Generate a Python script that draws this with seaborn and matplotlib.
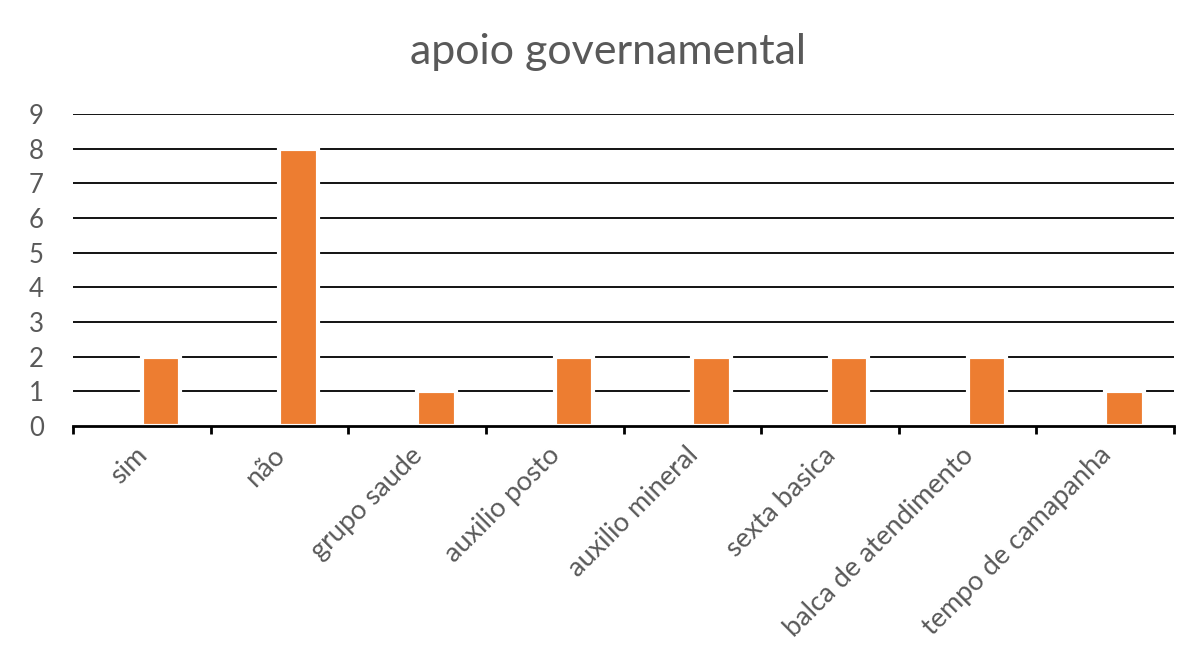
import matplotlib
matplotlib.use("Agg")
import matplotlib.pyplot as plt
import matplotlib.transforms as mtransforms
import seaborn as sns
import pandas as pd

categories = ["sim", "não", "grupo saude", "auxilio posto", "auxilio mineral",
              "sexta basica", "balca de atendimento", "tempo de camapanha"]
values = [2, 8, 1, 2, 2, 2, 2, 1]
yticks = list(range(0, 10))
title = "apoio governamental"

sns.set_theme(style="white")
plt.rcParams['font.family'] = ['Lato', 'DejaVu Sans']

fig = plt.figure(figsize=(11.98, 6.45), dpi=100)
ax = fig.add_axes([73/1198, 1-426/645, 1101/1198, 312/645])

# Excel-style clustered layout: an empty first series pushes the bars right
df = pd.DataFrame({
    "cat": categories * 2,
    "val": [float("nan")] * len(categories) + values,
    "serie": ["a"] * len(categories) + ["b"] * len(categories),
})
sns.barplot(data=df, x="cat", y="val", hue="serie",
            palette={"a": "#4472C4", "b": "#ED7D31"}, width=0.56, dodge=True,
            edgecolor="white", linewidth=3, ax=ax, zorder=3, saturation=1,
            legend=False)

ax.set_ylim(0, 9)
ax.set_xlim(-0.5, len(categories) - 0.5)
ax.set_yticks(yticks)
for y in yticks[1:]:
    ax.axhline(y, color="black", lw=1.3, zorder=1)

ax.set_xlabel("")
ax.set_ylabel("")
for s in ["top", "right", "left"]:
    ax.spines[s].set_visible(False)
ax.spines["bottom"].set_color("black")
ax.spines["bottom"].set_linewidth(2)
ax.spines["bottom"].set_zorder(4)

ax.tick_params(axis="y", length=0, labelsize=18.5, labelcolor="#595959", pad=21)
ax.set_xticks(range(len(categories)))
ax.set_xticklabels(categories, rotation=45, ha="right", rotation_mode="anchor",
                   fontsize=19.5, color="#595959")
ax.tick_params(axis="x", which="major", length=0, pad=12)
offset = mtransforms.ScaledTranslation(-7/100, 0, fig.dpi_scale_trans)
for lbl in ax.get_xticklabels():
    lbl.set_transform(lbl.get_transform() + offset)
ax.set_xticks([i - 0.5 for i in range(len(categories) + 1)], minor=True)
ax.tick_params(axis="x", which="minor", length=6, width=2, color="black", direction="out")
ax.xaxis.set_ticks_position("bottom")

fig.text(608/1198, 1 - 52/645, title, ha="center", va="center", fontsize=31, color="#595959")

fig.savefig("out.png", dpi=100)
